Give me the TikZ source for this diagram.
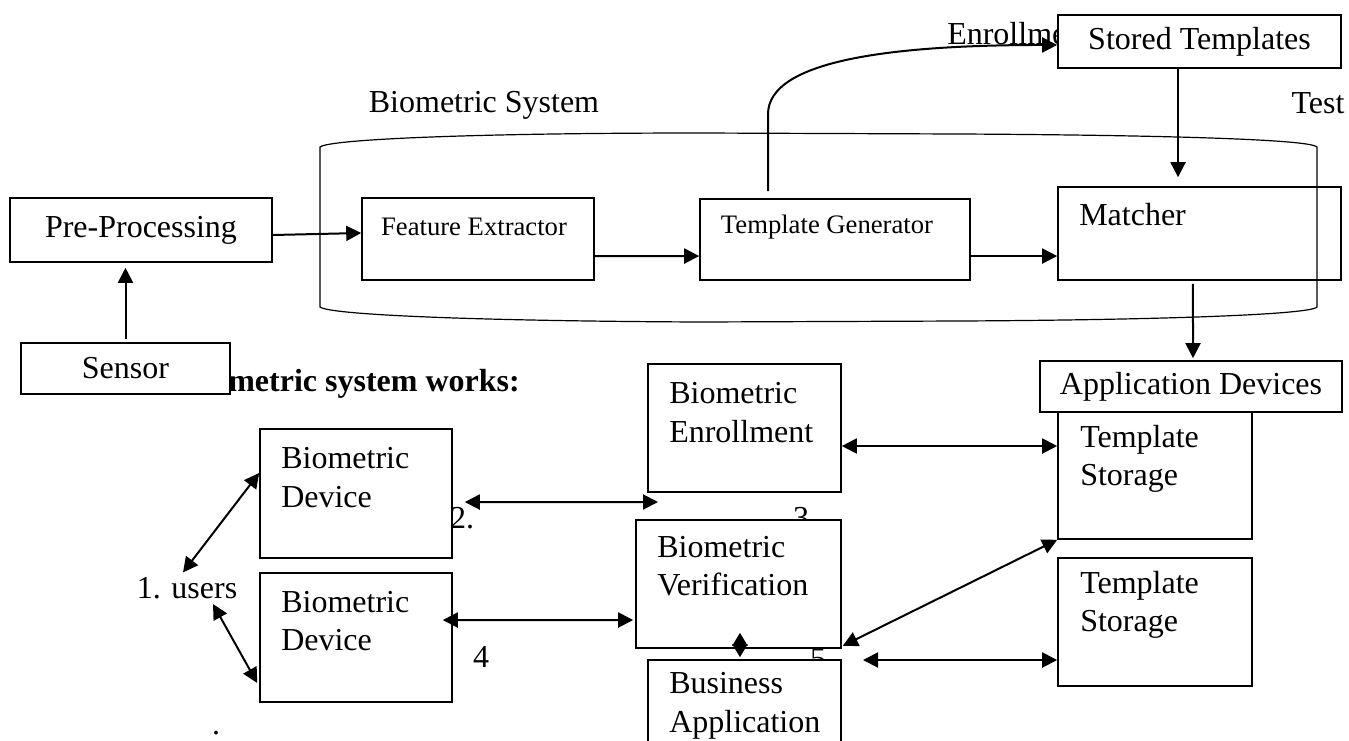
\documentclass[tikz,border=0pt]{standalone}
\usepackage{fontspec}
\setmainfont{Liberation Serif}
\usepackage{xcolor}
\usepackage{tikz}
\usetikzlibrary{arrows.meta}

\begin{document}
\begin{tikzpicture}[x=0.75pt,y=0.75pt,
        box/.style={draw=black,fill=white,line width=1.2pt,font=\fontsize{24}{29}\selectfont},
        txt/.style={font=\fontsize{24}{29}\selectfont,align=left},
        small/.style={font=\fontsize{20}{24}\selectfont},
        arr/.style={-{Triangle[length=11.25pt,width=11.25pt]},line width=1.5pt},
        both/.style={{Triangle[length=11.25pt,width=11.25pt]}-{Triangle[length=11.25pt,width=11.25pt]},line width=1.5pt}]
        \tikzstyle{every node}+=[inner sep=0pt]
        \useasboundingbox (0,0) rectangle (1349,-740);
        \node [txt] (sys) at (484,-105) {Biometric System};
        \node [txt] (test) at (1318,-103) {Test};
        \node [txt,anchor=west] (enrl) at (947,-34) {Enrollment};
        \node [txt,anchor=east,font=\fontsize{24}{29}\selectfont\bfseries] (works) at (520,-384) {Biometric system works:};
        \node [txt] (n3) at (801,-518) {3};
        \node [txt] (n5) at (818,-659) {5};
        \node [box,minimum width=196.5pt,minimum height=48pt] (pp) at (141,-230) {Pre-Processing};
        \node [box,minimum width=156.75pt,minimum height=38.25pt] (sensor) at (125.5,-368.5) {Sensor};
        \node [box,minimum width=174pt,minimum height=61.5pt] (fe) at (478,-239) {};
        \node [small] (fe-t) at (474,-227) {Feature Extractor};
        \node [box,minimum width=202.5pt,minimum height=60.75pt] (tg) at (835,-239.5) {};
        \node [small] (tg-t) at (827,-227) {Template Generator};
        \node [box,minimum width=212.25pt,minimum height=69.75pt] (mat) at (1199.5,-233.5) {};
        \node [txt,anchor=west] (mat-t) at (1079,-215) {Matcher};
        \node [box,minimum width=212.25pt,minimum height=39.75pt] (st) at (1199.5,-41.5) {Stored Templates};
        \node [box,minimum width=145.5pt,minimum height=100.5pt] (ts1) at (1155,-472) {};
        \node [txt,anchor=west] (ts1-t) at (1080,-459) {Template\\Storage};
        \node [box,minimum width=226.5pt,minimum height=38.25pt] (appdev) at (1191,-386.5) {Application Devices};
        \node [box,minimum width=145.5pt,minimum height=96pt] (ts2) at (1155,-622) {};
        \node [txt,anchor=west] (ts2-t) at (1080,-605) {Template\\Storage};
        \node [box,minimum width=144.75pt,minimum height=96pt] (enr) at (744.5,-428) {};
        \node [txt,anchor=west] (enr-t) at (669,-412.5) {Biometric\\Enrollment};
        \node [box,minimum width=153.75pt,minimum height=96pt] (ver) at (738.5,-584) {};
        \node [txt,anchor=west] (ver-t) at (657,-566) {Biometric\\Verification};
        \node [box,minimum width=144.75pt,minimum height=97.5pt] (ba) at (744.5,-725) {};
        \node [txt,anchor=west] (ba-t) at (669,-706) {Business\\Application};
        \node [box,minimum width=144pt,minimum height=96.75pt] (bd1) at (356,-493.5) {};
        \node [txt,anchor=west] (bd1-t) at (281,-477.5) {Biometric\\Device};
        \node [box,minimum width=144pt,minimum height=96.75pt] (bd2) at (356,-637.5) {};
        \node [txt,anchor=west] (bd2-t) at (281,-621) {Biometric\\Device};
        \node [txt] (users) at (187,-588) {1. users};
        \node [txt] (n2) at (462,-518) {2.};
        \node [txt] (n4) at (481,-657) {4};
        \node [txt] (dot) at (216,-733) {.};
        \coordinate (free2) at (658,-502);
        \coordinate (free5) at (863,-660);
        \draw [arr,shorten <=2.25pt,shorten >=3.75pt] (sensor.north) -- (sensor.north |- pp.south);
        \draw [arr] ([yshift=-3.75pt]pp.east) -- ([yshift=4.5pt]fe.west);
        \draw [arr] ([yshift=-12.75pt]fe.east) -- ([yshift=-12.4pt]tg.west);
        \draw [arr] ([yshift=-12.4pt]tg.east) -- ([yshift=-16.9pt]mat.west);
        \draw [arr] ([shift={(-50.25pt,5.25pt)}]tg.north) -- ++(0,77) .. controls +(0,55) and +(-160,0) .. ([yshift=-2.6pt]st.west);
        \draw [arr] ([xshift=-16.1pt]st.south) -- ([shift={(-16.1pt,6.75pt)}]mat.north);
        \draw [arr] ([shift={(-4.9pt,-2.25pt)}]mat.south) -- ([shift={(1.5pt,1.5pt)}]appdev.north);
        \draw [both] ([shift={(-3pt,3.4pt)}]users.north) -- ([yshift=15.4pt]bd1.west);
        \draw [both] ([shift={(19.5pt,-3.75pt)}]users.south) -- ([shift={(-1.5pt,-34.1pt)}]bd2.west);
        \draw [both] ([shift={(9pt,-6.4pt)}]bd1.east) -- (free2);
        \draw [both] ([shift={(-7.5pt,13.1pt)}]bd2.east) -- ([shift={(-1.5pt,-27pt)}]ver.west);
        \draw [both] ([yshift=-13.5pt]enr.east) -- ([yshift=19.5pt]ts1.west);
        \draw [both] ([shift={(0.75pt,2.25pt)}]ver.south east) -- (ts1.south west);
        \draw [{Triangle[length=9.75pt,width=11.25pt]}-{Triangle[length=9.75pt,width=11.25pt]},line width=1.5pt] ([shift={(1.1pt,12pt)}]ver.south) -- ([shift={(-3.4pt,1.5pt)}]ba.north);
        \draw [both] (free5) -- ([yshift=-28.5pt]ts2.west);
        \draw [black,line width=0.9pt] (320,-307) -- (320,-147) .. controls (330,-139) and (480,-133) .. (700,-133) -- (960,-134) .. controls (1150,-135) and (1310,-139) .. (1317,-147) -- (1317,-307) .. controls (1310,-315) and (1150,-320) .. (960,-321) -- (700,-322) .. controls (480,-321) and (330,-315) .. cycle;
    \end{tikzpicture}
\end{document}
